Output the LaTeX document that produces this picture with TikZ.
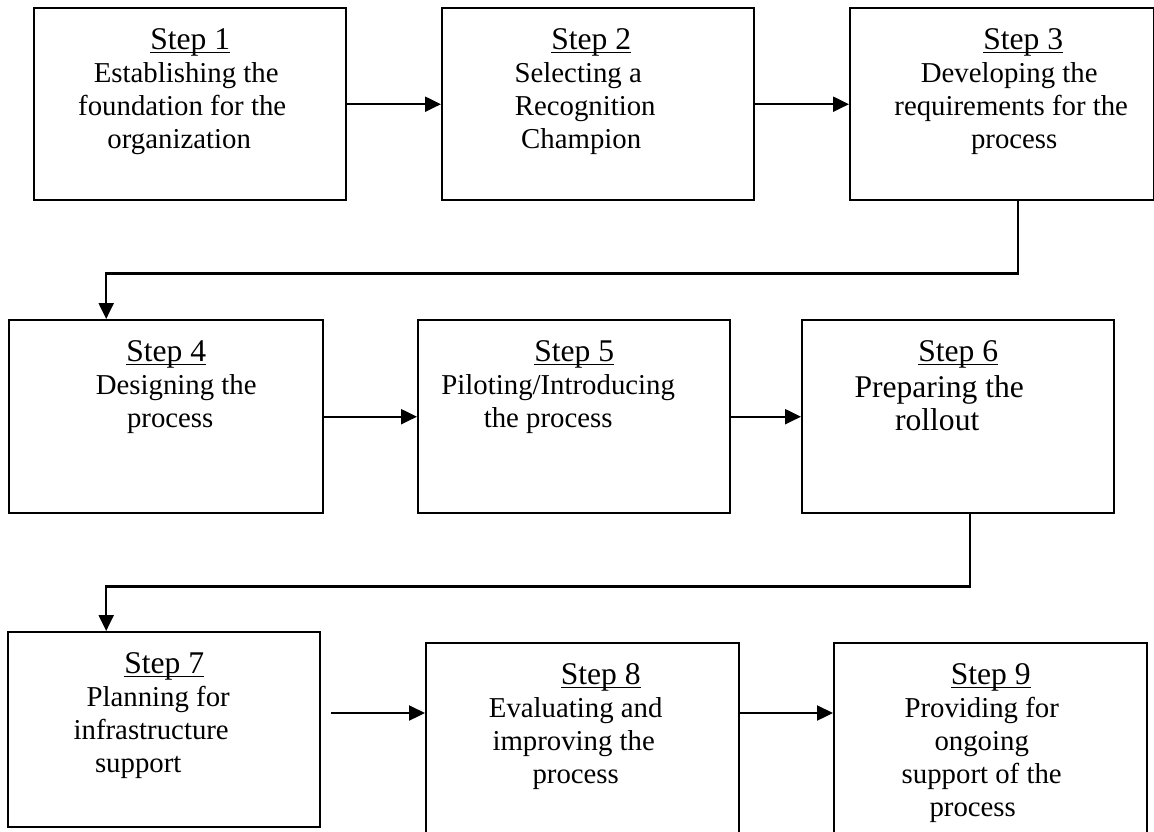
\documentclass[tikz,border=0pt]{standalone}
\usepackage{fontspec}
\setmainfont{Liberation Serif}
\usetikzlibrary{arrows.meta,positioning,calc}

\newcommand\stepul[1]{{\fontsize{15.8}{16.5}\selectfont\setbox0\hbox{#1}\rlap{\rule[-2pt]{\wd0}{0.6pt}}\box0}}

\begin{document}
\begin{tikzpicture}[
    x=0.5pt, y=-0.5pt,
    stepbox/.style 2 args={draw, line width=1.2pt, inner sep=0pt, anchor=north west,
      execute at begin node={\begin{minipage}[t][#2][t]{#1}\centering\fontsize{14.4}{16.5}\selectfont\rule{0pt}{20.5pt}},
      execute at end node={\end{minipage}}},
    arr/.style={-{Triangle[length=8pt,width=7.5pt]}, line width=1.1pt}
]
\useasboundingbox (0,0) rectangle (1154,831);
\clip (0,0) rectangle (1154,831);

% first row
\node[stepbox={156pt}{96pt}] (box1) at (33,7) {\stepul{Step 1}\\ Establishing the\kern4pt\\ foundation for the\kern8pt\\ organization\kern11pt};
\node[stepbox={156pt}{96pt}] (box2) at (441,7) {\stepul{Step 2}\kern7pt\\ Selecting a\kern20pt\\ Recognition\kern13pt\\ Champion\kern17pt};
\node[stepbox={152pt}{96pt}] (box3) at (849,7) {\hspace*{21pt}\stepul{Step 3}\\ \hspace*{7pt}Developing the\\ \hspace*{9pt}requirements for the\\ \hspace*{12pt}process};

% second row
\node[stepbox={157pt}{96.5pt}] (box4) at (8,319) {\stepul{Step 4}\\ \hspace*{10pt}Designing the\\ \hspace*{4pt}process};
\node[stepbox={156pt}{96.5pt}] (box5) at (417,319) {\stepul{Step 5}\\ Piloting/Introducing\kern16pt\\ the process\kern26pt};
\node[stepbox={156pt}{96.5pt}] (box6) at (801,319) {\stepul{Step 6}\\ \fontsize{15.8}{18.25}\selectfont Preparing the\kern19pt\\ rollout\kern21pt};

% third row
\node[stepbox={156pt}{97.5pt}] (box7) at (7,631) {\stepul{Step 7}\\ Planning for\kern6pt\\ infrastructure\kern13pt\\ support\kern26pt};
\node[stepbox={156.5pt}{105pt}] (box8) at (425,642) {\hspace*{18pt}\stepul{Step 8}\\ Evaluating and\kern7pt\\ improving the\kern9pt\\ process\kern7pt};
\node[stepbox={156.5pt}{105pt}] (box9) at (833,642) {\stepul{Step 9}\\ Providing for\kern9pt\\ ongoing\kern9pt\\ support of the\kern9pt\\ process\kern18pt};
\coordinate (row3) at (0,713);

\draw[arr] (box1.east) -- (box2.west);
\draw[arr] (box2.east) -- (box3.west);
\draw[arr] ([xshift=8pt]box3.south) -- ++(0,-36pt) -| ([xshift=-30pt]box4.north);
\draw[arr] (box4.east) -- (box5.west);
\draw[arr] (box5.east) -- (box6.west);
\draw[arr] ([xshift=6pt]box6.south) -- ++(0,-36pt) -| ([xshift=-29pt]box7.north);
\draw[arr, shorten <=5pt] (box7.east |- row3) -- (box8.west |- row3);
\draw[arr] (box8.east |- row3) -- (box9.west |- row3);
\end{tikzpicture}
\end{document}
